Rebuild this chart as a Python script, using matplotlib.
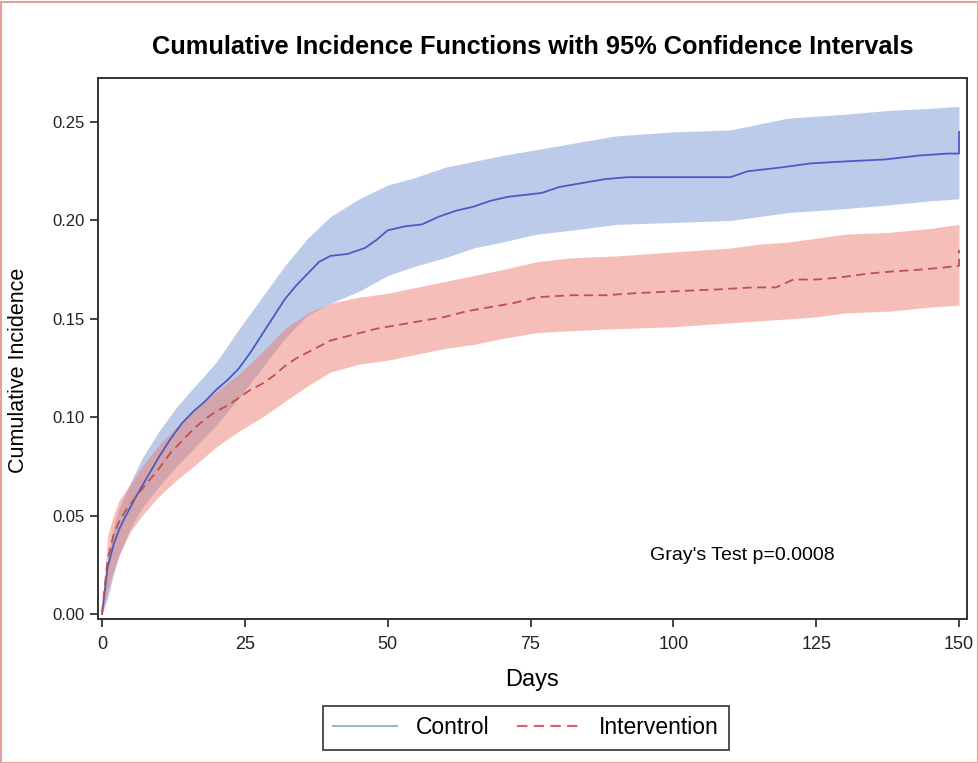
import numpy as np
import matplotlib
matplotlib.use("Agg")
import matplotlib.pyplot as plt
from matplotlib.patches import Rectangle

plt.rcParams['font.family'] = ['Liberation Sans', 'DejaVu Sans']

# cumulative incidence estimates
days_ctrl = [0, 0.5, 1, 2, 3, 4, 6, 8, 10, 12, 14, 16, 18, 20, 22, 24, 26, 28, 30, 32,
             34, 36, 38, 40, 43, 46, 48, 50, 53, 56, 59, 62, 65, 68, 71, 74, 77, 80, 84, 88,
             92, 110, 113, 116, 119, 124, 130, 137, 143, 148, 150, 150]
ctrl = [0, 0.012, 0.024, 0.035, 0.043, 0.049, 0.060, 0.070, 0.080, 0.089,
        0.097, 0.103, 0.108, 0.114, 0.119, 0.125, 0.133, 0.142, 0.151, 0.160,
        0.167, 0.173, 0.179, 0.182, 0.183, 0.186, 0.190, 0.195, 0.197, 0.198,
        0.202, 0.205, 0.207, 0.210, 0.212, 0.213, 0.214, 0.217, 0.219, 0.221,
        0.222, 0.222, 0.225, 0.226, 0.227, 0.229, 0.230, 0.231, 0.233, 0.234, 0.234, 0.245]

days_int = [0, 0.5, 1, 2, 3, 4, 6, 8, 10, 12, 14, 16, 18, 20, 22, 24, 26, 28, 30, 32,
            34, 36, 38, 40, 44, 48, 52, 56, 60, 64, 68, 72, 76, 82, 88, 93, 100, 108, 114, 118,
            121, 125, 129, 134, 138, 143, 147, 150, 150]
interv = [0, 0.015, 0.028, 0.040, 0.047, 0.052, 0.060, 0.067, 0.074, 0.082,
          0.088, 0.094, 0.099, 0.103, 0.106, 0.110, 0.114, 0.117, 0.121, 0.126,
          0.130, 0.133, 0.136, 0.139, 0.142, 0.145, 0.147, 0.149, 0.151, 0.154,
          0.156, 0.158, 0.161, 0.162, 0.162, 0.163, 0.164, 0.165, 0.166, 0.166,
          0.170, 0.170, 0.171, 0.173, 0.174, 0.175, 0.176, 0.177, 0.185]

# 95% confidence limits
band_days = [0, 1, 2, 3, 5, 7, 10, 13, 16, 20, 24, 28, 32, 36, 40, 45, 50, 55, 60, 65,
             70, 76, 82, 90, 100, 110, 115, 120, 125, 130, 138, 145, 150]
ctrl_lo = [0, 0.008, 0.020, 0.030, 0.044, 0.054, 0.065, 0.075, 0.084, 0.096,
           0.110, 0.125, 0.140, 0.152, 0.158, 0.164, 0.172, 0.177, 0.181, 0.186,
           0.189, 0.193, 0.195, 0.198, 0.199, 0.200, 0.202, 0.204, 0.205, 0.206,
           0.208, 0.210, 0.211]
ctrl_hi = [0, 0.028, 0.044, 0.054, 0.067, 0.079, 0.093, 0.105, 0.115, 0.128,
           0.145, 0.161, 0.177, 0.191, 0.202, 0.211, 0.218, 0.222, 0.227, 0.230,
           0.233, 0.236, 0.239, 0.243, 0.245, 0.246, 0.249, 0.252, 0.253, 0.254,
           0.256, 0.257, 0.258]
int_lo = [0, 0.012, 0.022, 0.030, 0.042, 0.050, 0.060, 0.068, 0.075, 0.085,
          0.093, 0.100, 0.108, 0.116, 0.123, 0.127, 0.129, 0.132, 0.135, 0.137,
          0.140, 0.143, 0.144, 0.145, 0.146, 0.148, 0.149, 0.150, 0.151, 0.153,
          0.154, 0.156, 0.157]
int_hi = [0, 0.040, 0.050, 0.058, 0.066, 0.075, 0.086, 0.095, 0.103, 0.113,
          0.122, 0.133, 0.145, 0.153, 0.158, 0.161, 0.163, 0.166, 0.169, 0.172,
          0.175, 0.179, 0.181, 0.182, 0.184, 0.186, 0.188, 0.189, 0.191, 0.193,
          0.194, 0.196, 0.198]

fig = plt.figure(figsize=(9.79, 7.63), dpi=100)
ax = fig.add_axes([98 / 979, 1 - 619 / 763, (967 - 98) / 979, (619 - 78) / 763])

ax.fill_between(band_days, ctrl_lo, ctrl_hi, color='#7b98d6', alpha=0.5, lw=0)
ax.fill_between(band_days, int_lo, int_hi, color='#ec7f72', alpha=0.5, lw=0)
ax.plot(days_ctrl, ctrl, color='#4a5cc4', lw=1.3)
ax.plot(days_int, interv, color='#c0504a', lw=1.3, dashes=(5, 3))

ax.set_xlim(-0.7, 151.4)
ax.set_ylim(-0.0025, 0.2724)
ax.set_xticks([0, 25, 50, 75, 100, 125, 150])
ax.set_yticks([0, 0.05, 0.10, 0.15, 0.20, 0.25])
ax.set_yticklabels(['0.00', '0.05', '0.10', '0.15', '0.20', '0.25'])
ax.tick_params(direction='out', length=6, width=1.2, colors='#222222')
ax.tick_params(axis='x', labelsize=13, pad=6)
ax.tick_params(axis='y', labelsize=12)
for s in ax.spines.values():
    s.set_linewidth(1.4)
    s.set_color('#333333')

ax.set_xlabel('Days', fontsize=17, labelpad=12)
ax.set_ylabel('Cumulative Incidence', fontsize=15.5)
ax.yaxis.set_label_coords(-0.079, 0.46)
ax.set_title('Cumulative Incidence Functions with 95% Confidence Intervals',
             fontsize=18.3, fontweight='bold', pad=17)

ax.text(96, 0.030, "Gray's Test p=0.0008", fontsize=14, va='center')

h1, = ax.plot([], [], color='#9fb4dc', lw=1.5)
h2, = ax.plot([], [], color='#e0606a', lw=1.5, dashes=(5, 3))
leg = fig.legend([h1, h2], ['Control', 'Intervention'], loc='center',
                 bbox_to_anchor=(526 / 979, 1 - 728 / 763), ncol=2, fontsize=16.5,
                 frameon=True, fancybox=False, edgecolor='#222222', handlelength=2.8,
                 columnspacing=1.2, borderpad=0.45)
leg.get_frame().set_linewidth(1.4)

# thin frame around the figure
fig.patches.append(Rectangle((0.001, 0.0), 0.998, 0.998, transform=fig.transFigure,
                             fill=False, edgecolor='#e3a0a0', lw=1.5))

fig.savefig('out.png', dpi=100)
